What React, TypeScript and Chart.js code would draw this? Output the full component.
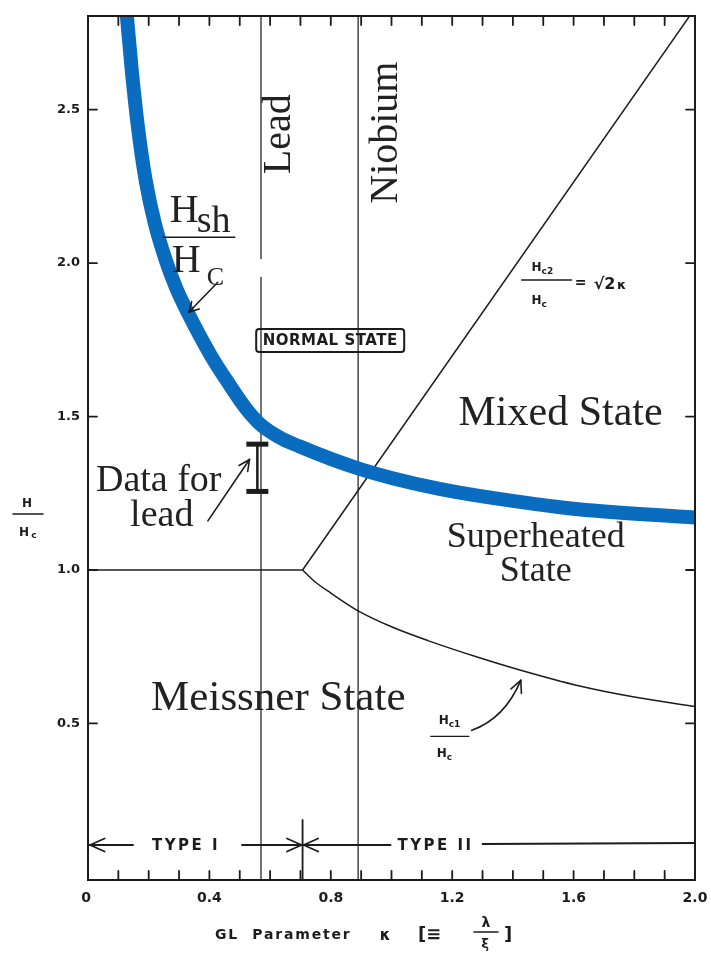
import { useEffect, useRef } from 'react';
import { Chart, registerables } from 'chart.js';

Chart.register(...registerables);

// Ginzburg–Landau parameter axis and reduced-field axis
const X_MIN = 0;
const X_MAX = 2.0;
const Y_MIN = -0.01;
const Y_MAX = 2.805;

const xTickValues = [0, 0.4, 0.8, 1.2, 1.6, 2.0];
const xTickLabels = ['0', '0.4', '0.8', '1.2', '1.6', '2.0'];
const yTickValues = [0.5, 1.0, 1.5, 2.0, 2.5];
const yTickLabels = ['0.5', '1.0', '1.5', '2.0', '2.5'];

// Superheating field Hsh/Hc
const kappaHsh = [0.12, 0.128, 0.145, 0.165, 0.19, 0.22, 0.256, 0.29, 0.328, 0.407, 0.466, 0.516, 0.565, 0.631, 0.696, 0.8, 0.9, 1.0, 1.15, 1.3, 1.616, 2.0];
const hshOverHc = [2.9, 2.805, 2.62, 2.44, 2.27, 2.13, 2.01, 1.92, 1.84, 1.695, 1.604, 1.532, 1.477, 1.432, 1.403, 1.362, 1.328, 1.3, 1.266, 1.24, 1.198, 1.171];

// Lower critical field Hc1/Hc (type II side)
const kappaHc1 = [0.707, 0.75, 0.8, 0.89, 1.0, 1.12, 1.29, 1.42, 1.62, 1.8, 2.0];
const hc1OverHc = [1.0, 0.96, 0.925, 0.867, 0.815, 0.77, 0.714, 0.675, 0.622, 0.586, 0.555];

// Upper critical field Hc2/Hc = sqrt(2) kappa
const kappaHc2 = [0.707, 2.0];
const hc2OverHc = [1.0, 2.83];

// Thermodynamic critical field for type I
const kappaHc = [0, 0.707];
const hcOverHc = [1.0, 1.0];

// Material kappa values
const kappaLead = 0.57;
const kappaNiobium = 0.89;
const kappaTypeBoundary = 0.707;

// Measured superheating range for lead
const kappaLeadData = 0.558;
const leadDataRange = [1.41, 1.256];

const INK = '#1c1c1c';
const BLUE = '#0a6cbf';
const SERIF = '"Liberation Serif", "Times New Roman", serif';
const SANS = '"DejaVu Sans", "Liberation Sans", sans-serif';

const pts = (xs: number[], ys: (number | null)[]) => xs.map((x, i) => ({ x, y: ys[i] }));

const overlay = {
  id: 'overlay',
  afterDatasetsDraw(chart: any) {
    const { ctx, chartArea: a, scales } = chart;
    const X = (v: number) => scales.x.getPixelForValue(v);
    const Y = (v: number) => scales.y.getPixelForValue(v);

    const line = (x1: number, y1: number, x2: number, y2: number) => {
      ctx.beginPath();
      ctx.moveTo(x1, y1);
      ctx.lineTo(x2, y2);
      ctx.stroke();
    };
    const text = (s: string, x: number, y: number, font: string, align: CanvasTextAlign = 'center', baseline: CanvasTextBaseline = 'middle', spacing = 0) => {
      ctx.font = font;
      ctx.textAlign = align;
      ctx.textBaseline = baseline;
      (ctx as any).letterSpacing = spacing + 'px';
      ctx.fillText(s, x, y);
      (ctx as any).letterSpacing = '0px';
    };
    const head = (x: number, y: number, ang: number, len = 14, spread = 0.45) => {
      line(x, y, x - len * Math.cos(ang - spread), y - len * Math.sin(ang - spread));
      line(x, y, x - len * Math.cos(ang + spread), y - len * Math.sin(ang + spread));
    };

    ctx.save();
    ctx.strokeStyle = INK;
    ctx.fillStyle = INK;
    ctx.lineCap = 'round';

    // frame
    ctx.lineWidth = 2;
    ctx.strokeRect(a.left, a.top, a.right - a.left, a.bottom - a.top);

    // inward ticks
    ctx.lineWidth = 1.8;
    for (let i = 1; i < 20; i++) {
      const px = X(i / 10);
      line(px, a.bottom, px, a.bottom - 9);
      line(px, a.top, px, a.top + 9);
    }
    for (const v of yTickValues) {
      line(a.left, Y(v), a.left + 9, Y(v));
      line(a.right, Y(v), a.right - 9, Y(v));
    }

    // tick labels
    ctx.fillStyle = INK;
    xTickValues.forEach((v, i) => text(xTickLabels[i], X(v) - (i === 0 ? 2 : 0), a.bottom + 18, `bold 14px ${SANS}`));
    yTickValues.forEach((v, i) => text(yTickLabels[i], a.left - 8, Y(v), `bold 13px ${SANS}`, 'right'));

    // y title H / Hc
    ctx.lineWidth = 1.6;
    text('H', a.left - 61, a.top + 488, `bold 12px ${SANS}`);
    line(a.left - 75, a.top + 498, a.left - 45, a.top + 498);
    text('H', a.left - 64, a.top + 517, `bold 12px ${SANS}`);
    text('c', a.left - 54, a.top + 520, `bold 9px ${SANS}`);

    // x title
    const ty = a.bottom + 55;
    text('GL  Parameter', a.left + 127, ty, `bold 14px ${SANS}`, 'left', 'middle', 1.8);
    text('κ', a.left + 297, ty + 1, `bold 15px ${SANS}`, 'center');
    text('[≡', a.left + 330, ty, `bold 18px ${SANS}`, 'left');
    text('λ', a.left + 398, ty - 12, `bold 14px ${SANS}`);
    line(a.left + 386, ty - 3, a.left + 410, ty - 3);
    text('ξ', a.left + 397, ty + 10, `bold 13px ${SANS}`);
    text(']', a.left + 416, ty, `bold 18px ${SANS}`, 'left');

    // type I / type II band
    const by = Y(0.104);
    const bx = X(kappaTypeBoundary);
    ctx.lineWidth = 1.8;
    line(X(0) + 2, by, X(0) + 45, by);
    head(X(0) + 2, by, Math.PI, 16, 0.42);
    text('TYPE I', X(0) + 98, by + 1, `bold 15px ${SANS}`, 'center', 'middle', 2.5);
    line(X(0) + 154, by, bx - 1, by);
    head(bx - 1, by, 0, 16, 0.42);
    line(bx + 1, by, bx + 88, by);
    head(bx + 1, by, Math.PI, 16, 0.42);
    text('TYPE II', bx + 133, by + 1, `bold 15px ${SANS}`, 'center', 'middle', 2.5);
    line(bx + 180, by - 1, a.right, by - 2);
    line(bx, by - 25, bx, a.bottom);

    // material labels
    ctx.fillStyle = '#222';
    const vert = (s: string, k: number, h: number) => {
      ctx.save();
      ctx.translate(X(k), Y(h));
      ctx.rotate(-Math.PI / 2);
      text(s, 0, 0, `40px ${SERIF}`);
      ctx.restore();
    };
    vert('Lead', 0.63, 2.42);
    vert('Niobium', 0.985, 2.425);

    // region labels
    text('Mixed State', X(1.557), Y(1.51), `42px ${SERIF}`);
    text('Superheated', X(1.475), Y(1.107), `36px ${SERIF}`);
    text('State', X(1.475), Y(0.994), `36px ${SERIF}`);
    text('Meissner State', X(0.627), Y(0.581), `43px ${SERIF}`);
    text('Data for', X(0.233), Y(1.289), `38px ${SERIF}`);
    text('lead', X(0.243), Y(1.175), `38px ${SERIF}`);

    // NORMAL STATE box
    const nx = X(0.798), ny = Y(1.748);
    ctx.lineWidth = 2;
    ctx.beginPath();
    (ctx as any).roundRect(nx - 74, ny - 11.5, 148, 23, 3);
    ctx.stroke();
    ctx.fillStyle = INK;
    text('NORMAL STATE', nx, ny + 1, `bold 15px ${SANS}`, 'center', 'middle', 0.5);

    // Hsh / Hc label with arrow
    const hx = X(0.365), hy = Y(2.084);
    ctx.fillStyle = '#222';
    ctx.lineWidth = 1.5;
    line(hx - 36, hy, hx + 36, hy);
    text('H', hx - 29, hy - 15, `40px ${SERIF}`, 'left', 'alphabetic');
    text('sh', hx - 2, hy - 5, `38px ${SERIF}`, 'left', 'alphabetic');
    text('H', hx - 27, hy + 35, `40px ${SERIF}`, 'left', 'alphabetic');
    text('C', hx + 8, hy + 48, `26px ${SERIF}`, 'left', 'alphabetic');
    ctx.strokeStyle = INK;
    ctx.lineWidth = 1.6;
    line(hx + 19, hy + 45, hx - 10, hy + 75);
    head(hx - 10, hy + 75, Math.atan2(30, -29), 11, 0.5);

    // arrow to the lead data bar
    line(X(0.395), Y(1.16), X(0.532), Y(1.36));
    head(X(0.532), Y(1.36), Math.atan2(Y(1.36) - Y(1.16), X(0.532) - X(0.395)), 12, 0.45);

    // Hc2 / Hc = sqrt(2) kappa
    const cx = X(1.511), cy = Y(1.945);
    ctx.fillStyle = INK;
    ctx.lineWidth = 1.4;
    line(cx - 25, cy, cx + 25, cy);
    text('H', cx - 15, cy - 9, `bold 12px ${SANS}`, 'left', 'alphabetic');
    text('c2', cx - 5, cy - 6, `bold 9px ${SANS}`, 'left', 'alphabetic');
    text('H', cx - 15, cy + 24, `bold 12px ${SANS}`, 'left', 'alphabetic');
    text('c', cx - 5, cy + 27, `bold 9px ${SANS}`, 'left', 'alphabetic');
    text('=', cx + 34, cy + 3, `bold 14px ${SANS}`);
    text('√2', cx + 58, cy + 5, `bold 16px ${SANS}`);
    text('κ', cx + 75, cy + 6, `bold 13px ${SANS}`);

    // Hc1 / Hc label with curved arrow
    const lx = X(1.192), ly = Y(0.458);
    line(lx - 19, ly, lx + 19, ly);
    text('H', lx - 11, ly - 12, `bold 12px ${SANS}`, 'left', 'alphabetic');
    text('c1', lx - 1, ly - 9, `bold 9px ${SANS}`, 'left', 'alphabetic');
    text('H', lx - 13, ly + 21, `bold 12px ${SANS}`, 'left', 'alphabetic');
    text('c', lx - 3, ly + 24, `bold 9px ${SANS}`, 'left', 'alphabetic');
    ctx.lineWidth = 1.6;
    ctx.beginPath();
    ctx.moveTo(lx + 22, ly - 6);
    ctx.quadraticCurveTo(lx + 55, ly - 18, lx + 71, ly - 56);
    ctx.stroke();
    head(lx + 71, ly - 56, Math.atan2(-38, 16), 13, 0.45);

    ctx.restore();
  },
};

export default function App() {
  const ref = useRef<HTMLCanvasElement | null>(null);

  useEffect(() => {
    document.body.style.margin = '0';
    const canvas = ref.current;
    if (!canvas) return;

    const thin = {
      showLine: true,
      pointRadius: 0,
      borderColor: INK,
      borderWidth: 1.5,
      fill: false,
      clip: 0,
    };

    const chart = new Chart(canvas, {
      type: 'scatter',
      data: {
        datasets: [
          {
            label: 'Hsh/Hc',
            data: pts(kappaHsh, hshOverHc),
            showLine: true,
            pointRadius: 0,
            borderColor: BLUE,
            borderWidth: 14,
            borderCapStyle: 'butt',
            borderJoinStyle: 'round',
            cubicInterpolationMode: 'monotone',
            clip: 0,
          },
          {
            label: 'lead data',
            data: pts([kappaLeadData, kappaLeadData], leadDataRange),
            showLine: true,
            borderColor: INK,
            borderWidth: 2.5,
            pointStyle: 'line',
            pointRadius: 11,
            pointBorderWidth: 5,
            pointBorderColor: INK,
            clip: 0,
          },
          { label: 'Hc1/Hc', data: pts(kappaHc1, hc1OverHc), ...thin, cubicInterpolationMode: 'monotone' },
          { label: 'Hc2/Hc', data: pts(kappaHc2, hc2OverHc), ...thin },
          { label: 'Hc/Hc', data: pts(kappaHc, hcOverHc), ...thin },
          {
            label: 'Lead',
            data: pts([kappaLead, kappaLead, kappaLead, kappaLead, kappaLead], [Y_MIN, 1.955, null, 2.013, Y_MAX]),
            ...thin,
            borderWidth: 1.3,
            borderColor: '#2a2a2a',
            spanGaps: false,
          },
          {
            label: 'Niobium',
            data: pts([kappaNiobium, kappaNiobium], [Y_MIN, Y_MAX]),
            ...thin,
            borderWidth: 1.3,
            borderColor: '#2a2a2a',
          },
        ],
      } as any,
      options: {
        animation: false,
        responsive: false,
        events: [],
        layout: { padding: { left: 88, top: 13, right: 14, bottom: 76 } },
        plugins: { legend: { display: false }, tooltip: { enabled: false } },
        scales: {
          x: { type: 'linear', min: X_MIN, max: X_MAX, display: false },
          y: { type: 'linear', min: Y_MIN, max: Y_MAX, display: false },
        },
      },
      plugins: [overlay],
    });

    return () => chart.destroy();
  }, []);

  return (
    <div style={{ width: 711, height: 956, background: '#fff' }}>
      <canvas ref={ref} width={711} height={956} style={{ display: 'block' }} />
    </div>
  );
}
